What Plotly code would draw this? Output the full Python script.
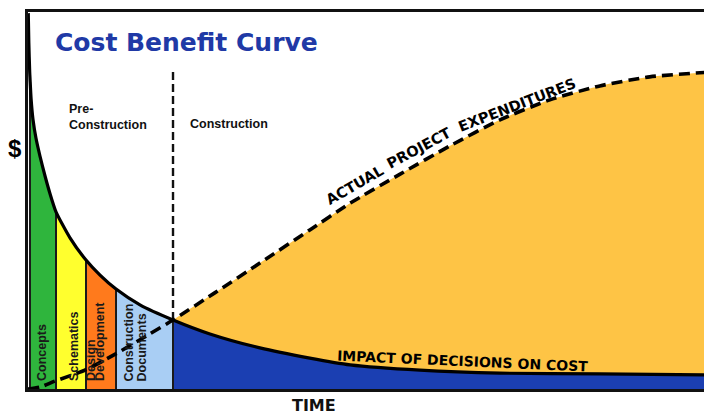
import plotly.graph_objects as go

# ---- data (time axis 0-100, cost axis 0-100) ----
decay_x = [0.04, 0.12, 0.25, 0.29, 0.45, 0.73, 1.17, 1.75, 2.49, 3.22, 4.09, 6.14, 8.48, 10.53,
           12.87, 16.37, 21.2, 26.6, 33.9, 41.2, 47.1, 57.3, 69.0, 83.6, 100.0]
decay_y = [99.7, 92.0, 84.0, 82.6, 77.0, 71.5, 66.5, 61.8, 56.5, 51.8, 47.0, 40.1, 34.2, 30.2,
           26.5, 22.3, 18.3, 14.6, 10.9, 8.2, 6.4, 5.0, 4.2, 4.0, 3.7]

spend_x = [0.0, 1.75, 3.95, 8.33, 13.0, 17.8, 21.2, 27.3, 33.9, 41.2, 47.1,
           54.4, 61.7, 69.0, 76.3, 83.6, 90.9, 100.0]
spend_y = [0.0, 0.5, 2.1, 5.0, 9.5, 14.6, 18.3, 25.5, 33.4, 42.2, 49.3,
           57.0, 64.5, 71.4, 76.7, 80.4, 82.8, 84.1]

phase_names = ["Concepts", "Schematics", "Design<br>Development", "Construction<br>Documents"]
phase_edges = [0.29, 4.09, 8.48, 12.87, 21.2]
phase_colors = ["#2FB53D", "#FFFF2E", "#FF7A1C", "#A9CEF4"]
# horizontal placement of each label line
phase_label_x = [[2.12], [6.73], [9.21, 10.6], [14.69, 16.59]]

divider_top = 84.9
blue = "#1B3FB2"
gold = "#FEC445"

fig = go.Figure()

def seg(x0, x1):
    xs = [x for x in decay_x if x0 <= x <= x1]
    ys = [y for x, y in zip(decay_x, decay_y) if x0 <= x <= x1]
    return xs, ys

SM = 0.6

# construction phase: blue under the decision curve, gold up to the spend curve
cx, cy = seg(phase_edges[-1], 100)
fig.add_trace(go.Scatter(x=cx, y=cy, mode="lines", line=dict(width=0, shape="spline", smoothing=SM),
                         fill="tozeroy", fillcolor=blue, hoverinfo="skip"))
sx = [x for x in spend_x if x >= phase_edges[-1]]
sy = [y for x, y in zip(spend_x, spend_y) if x >= phase_edges[-1]]
fig.add_trace(go.Scatter(x=sx, y=sy, mode="lines", line=dict(width=0, shape="spline", smoothing=SM),
                         fill="tonexty", fillcolor=gold, hoverinfo="skip"))

# pre-construction phases
for i, col in enumerate(phase_colors):
    px_, py_ = seg(phase_edges[i], phase_edges[i + 1])
    fig.add_trace(go.Scatter(x=px_, y=py_, mode="lines",
                             line=dict(width=0, shape="spline", smoothing=SM),
                             fill="tozeroy", fillcolor=col, hoverinfo="skip"))

# separators between phases
vx, vy = [], []
for e in phase_edges:
    ye = decay_y[decay_x.index(e)]
    vx += [e, e, None]
    vy += [0, ye, None]
fig.add_trace(go.Scatter(x=vx, y=vy, mode="lines", line=dict(color="#1a1a1a", width=2),
                         hoverinfo="skip"))

# vertical dashed divider
e = phase_edges[-1]
fig.add_trace(go.Scatter(x=[e, e], y=[decay_y[decay_x.index(e)], divider_top], mode="lines",
                         line=dict(color="#111", width=2.4, dash="8px,4px"), hoverinfo="skip"))

# decision curve
fig.add_trace(go.Scatter(x=decay_x, y=decay_y, mode="lines",
                         line=dict(color="#000", width=3.2, shape="spline", smoothing=SM),
                         hoverinfo="skip"))
# actual expenditures
fig.add_trace(go.Scatter(x=spend_x, y=spend_y, mode="lines",
                         line=dict(color="#000", width=3.6, dash="11px,6px", shape="spline",
                                   smoothing=SM),
                         hoverinfo="skip"))

narrow = "Liberation Sans, Arial, sans-serif"
bold = "DejaVu Sans, Arial, sans-serif"

ann = []
ann.append(dict(x=3.65, y=92.0, text="<b>Cost Benefit Curve</b>", xanchor="left", yanchor="middle",
                font=dict(family=bold, size=25, color="#2039A6")))
ann.append(dict(x=5.7, y=72.1, text="<b>Pre-<br>Construction</b>", xanchor="left", yanchor="middle",
                align="left", font=dict(family=narrow, size=12.5, color="#111")))
ann.append(dict(x=23.4, y=70.3, text="<b>Construction</b>", xanchor="left", yanchor="middle",
                font=dict(family=narrow, size=12.5, color="#111")))
for name, xs in zip(phase_names, phase_label_x):
    for line, lx in zip(name.split("<br>"), xs):
        ann.append(dict(x=lx, y=1.6, text="<b>" + line + "</b>", textangle=-90, xanchor="center",
                        yanchor="bottom", font=dict(family=narrow, size=12.5, color="#1a1a1a")))
for t, x, y, a in [("ACTUAL", 47.8, 54.1, -30), ("PROJECT", 57.2, 63.8, -28),
                   ("EXPENDITURES", 71.5, 75.3, -21)]:
    ann.append(dict(x=x, y=y, text="<b>" + t + "</b>", textangle=a, xanchor="center",
                    yanchor="middle", font=dict(family=bold, size=14.5, color="#000")))
ann.append(dict(x=63.5, y=7.4, text="<b>IMPACT OF DECISIONS ON COST</b>", textangle=2.5,
                xanchor="center", yanchor="middle", font=dict(family=bold, size=14, color="#000")))
for a in ann:
    a.update(xref="x", yref="y", showarrow=False)

# labels outside the plotting area (paper coordinates)
ann.append(dict(x=-0.019, y=0.639, xref="paper", yref="paper", text="<b>$</b>", showarrow=False,
                xanchor="center", yanchor="middle",
                font=dict(family="Liberation Sans, Arial, sans-serif", size=24, color="#000")))
ann.append(dict(x=0.418, y=-0.045, xref="paper", yref="paper", text="<b>TIME</b>", showarrow=False,
                xanchor="center", yanchor="middle",
                font=dict(family=bold, size=16, color="#111")))

fig.update_layout(
    width=704, height=406,
    margin=dict(l=20, r=0, t=4, b=25),
    paper_bgcolor="white", plot_bgcolor="white",
    showlegend=False,
    annotations=ann,
    xaxis=dict(range=[0, 100], showgrid=False, zeroline=False, showticklabels=False,
               ticks="", showline=True, mirror=True, linecolor="#111", linewidth=3),
    yaxis=dict(range=[0, 100], showgrid=False, zeroline=False, showticklabels=False,
               ticks="", showline=True, linecolor="#111", linewidth=3),
)

fig.write_html("out.html")
